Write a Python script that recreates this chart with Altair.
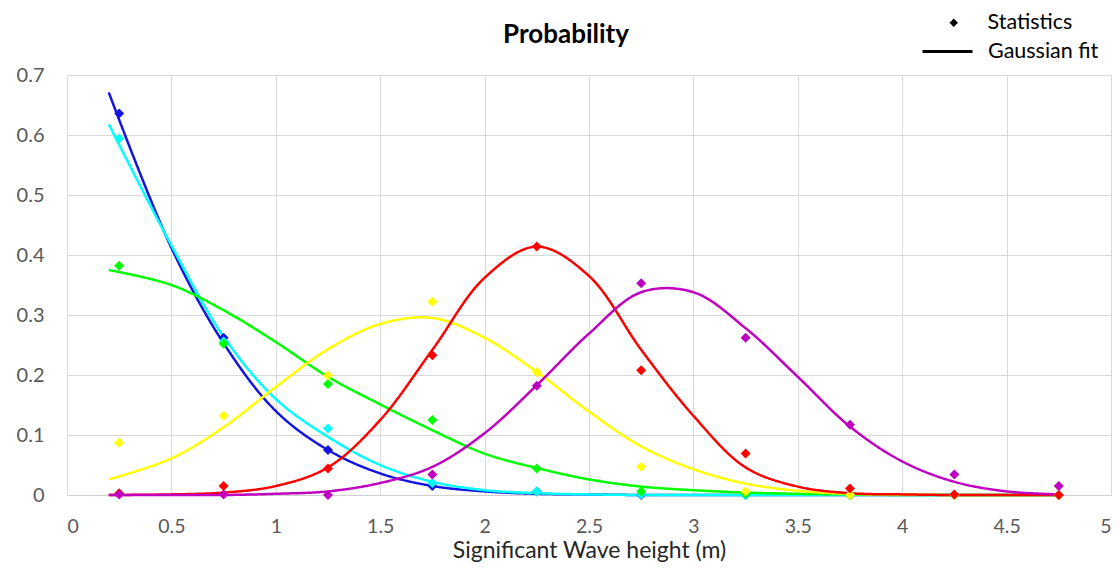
import altair as alt
import pandas as pd

FONT = "Lato"

series = ["Series 1", "Series 2", "Series 3", "Series 4", "Series 5", "Series 6"]
colors = ["#1414E0", "#00FFFF", "#00FF00", "#FFFF00", "#FF0000", "#C000C0"]

# Statistics (diamonds)
stat_x = [0.25, 0.75, 1.25, 1.75, 2.25, 2.75, 3.25, 3.75, 4.25, 4.75]
stat_s1 = [0.636, 0.262, 0.075, 0.015, 0.006, 0.0, 0.0, 0.0, 0.0, 0.0]
stat_s2 = [0.594, 0.256, 0.111, 0.020, 0.006, 0.001, 0.0, 0.0, 0.0, 0.0]
stat_s3 = [0.382, 0.252, 0.185, 0.125, 0.044, 0.006, 0.002, 0.0, 0.0, 0.0]
stat_s4 = [0.087, 0.132, 0.199, 0.322, 0.205, 0.047, 0.006, 0.0, 0.0, 0.0]
stat_s5 = [0.003, 0.015, 0.044, 0.233, 0.414, 0.208, 0.069, 0.011, 0.001, 0.0]
stat_s6 = [0.001, 0.001, 0.0, 0.034, 0.182, 0.353, 0.262, 0.117, 0.034, 0.015]

# Gaussian fit (curves)
fit_x = [0.2, 0.5, 0.75, 1.0, 1.25, 1.5, 1.75, 2.0, 2.25, 2.5, 2.75, 3.0,
         3.25, 3.5, 3.75, 4.0, 4.25, 4.5, 4.75]
fit_s1 = [0.671, 0.412, 0.253, 0.140, 0.075, 0.036, 0.015, 0.006, 0.002, 0.001, 0.0, 0.0,
          0.0, 0.0, 0.0, 0.0, 0.0, 0.0, 0.0]
fit_s2 = [0.618, 0.416, 0.264, 0.160, 0.097, 0.050, 0.022, 0.008, 0.003, 0.001, 0.0, 0.0,
          0.0, 0.0, 0.0, 0.0, 0.0, 0.0, 0.0]
fit_s3 = [0.375, 0.350, 0.308, 0.255, 0.197, 0.151, 0.108, 0.069, 0.045, 0.026, 0.014, 0.008,
          0.004, 0.002, 0.001, 0.0, 0.0, 0.0, 0.0]
fit_s4 = [0.026, 0.061, 0.113, 0.180, 0.243, 0.285, 0.295, 0.262, 0.205, 0.139, 0.081, 0.043,
          0.019, 0.007, 0.002, 0.001, 0.0, 0.0, 0.0]
fit_s5 = [0.0, 0.001, 0.004, 0.015, 0.046, 0.125, 0.242, 0.362, 0.414, 0.365, 0.242, 0.132,
          0.046, 0.014, 0.003, 0.001, 0.0, 0.0, 0.0]
fit_s6 = [0.0, 0.0, 0.0, 0.002, 0.006, 0.020, 0.047, 0.103, 0.183, 0.269, 0.338, 0.338,
          0.278, 0.197, 0.114, 0.056, 0.022, 0.006, 0.001]

stat_vals = [stat_s1, stat_s2, stat_s3, stat_s4, stat_s5, stat_s6]
fit_vals = [fit_s1, fit_s2, fit_s3, fit_s4, fit_s5, fit_s6]

stat_rows = []
fit_rows = []
for i, name in enumerate(series):
    for x, y in zip(stat_x, stat_vals[i]):
        stat_rows.append({"series": name, "order": i, "x": x, "y": y, "kind": "Statistics"})
    for x, y in zip(fit_x, fit_vals[i]):
        fit_rows.append({"series": name, "order": i, "x": x, "y": y, "kind": "Gaussian fit"})

stats = pd.DataFrame(stat_rows)
fits = pd.DataFrame(fit_rows)

x_ticks = [0, 0.5, 1, 1.5, 2, 2.5, 3, 3.5, 4, 4.5, 5]
y_ticks = [0, 0.1, 0.2, 0.3, 0.4, 0.5, 0.6, 0.7]

xs = alt.X("x:Q", scale=alt.Scale(domain=[0, 5], nice=False),
           axis=alt.Axis(values=x_ticks, format=".1~f", title="Significant Wave height (m)",
                         grid=True, gridColor="#d9d9d9", tickSize=0, domainColor="#d0d0d0",
                         labelFontSize=19.5, labelColor="#595959", labelFont=FONT,
                         labelPadding=22, titleFontSize=23, titleFont=FONT,
                         titleFontWeight="normal", titleColor="#262626", titlePadding=4))
ys = alt.Y("y:Q", scale=alt.Scale(domain=[0, 0.7], nice=False),
           axis=alt.Axis(values=y_ticks, format=".1~f", title=None,
                         grid=True, gridColor="#d9d9d9", tickSize=0, domain=False,
                         labelFontSize=20, labelColor="#595959", labelFont=FONT,
                         labelPadding=23))
col = alt.Color("series:N", scale=alt.Scale(domain=series, range=colors), legend=None)

lines = alt.Chart(fits).mark_line(strokeWidth=2.5, interpolate="catmull-rom").encode(
    x=xs, y=ys, color=col, order=alt.Order("x:Q"),
    strokeDash=alt.StrokeDash("kind:N", scale=alt.Scale(domain=["Gaussian fit"], range=[[1, 0]]),
                              legend=alt.Legend(title=None, orient="none", legendX=854, legendY=-50,
                                                symbolType="stroke", symbolSize=2500,
                                                symbolStrokeWidth=3, symbolStrokeColor="black",
                                                labelFontSize=21.5, labelFont=FONT, labelColor="#000000",
                                                labelOffset=14, padding=0)),
)

points = alt.Chart(stats).mark_point(filled=True, size=100, opacity=1).encode(
    x=xs, y=ys, color=col,
    shape=alt.Shape("kind:N", scale=alt.Scale(domain=["Statistics"], range=["diamond"]),
                    legend=alt.Legend(title=None, orient="none", legendX=876, legendY=-63,
                                      symbolSize=70, symbolFillColor="black",
                                      symbolStrokeColor="black", symbolStrokeWidth=0,
                                      labelFontSize=21.5, labelFont=FONT, labelColor="#000000",
                                      labelOffset=23, padding=0)),
)

chart = alt.layer(lines, points).resolve_legend(shape="independent", strokeDash="independent").properties(
    width=1044, height=420,
    title=alt.TitleParams("Probability", fontSize=26, fontWeight="bold", font=FONT,
                          color="#000000", anchor="middle", dx=-23, dy=36, offset=0),
    autosize=alt.AutoSizeParams(type="none"),
    padding={"left": 59, "top": 67, "right": 1, "bottom": 72},
).configure_view(stroke=None)

chart.save("out.html", embed_options={"renderer": "svg", "actions": False})
